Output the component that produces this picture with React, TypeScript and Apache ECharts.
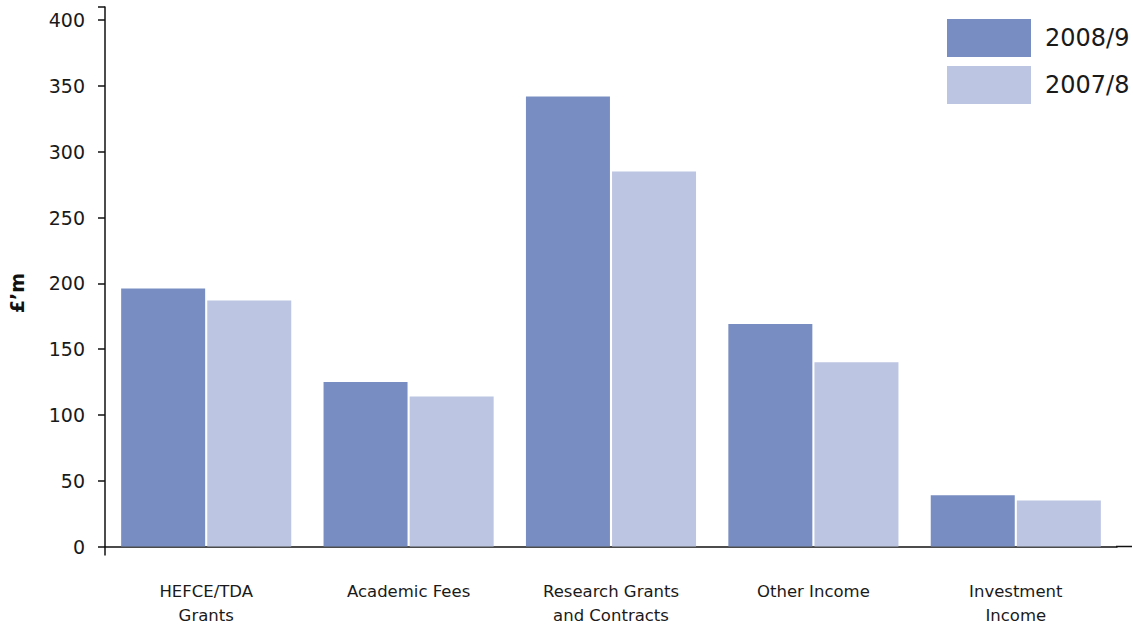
import React, { useEffect, useRef } from "react";
import * as echarts from "echarts";

const categories = [
  "HEFCE/TDA\nGrants",
  "Academic Fees",
  "Research Grants\nand Contracts",
  "Other Income",
  "Investment\nIncome",
];
const series2008_9 = [196, 125, 342, 169, 39];
const series2007_8 = [187, 114, 285, 140, 35];
const seriesNames = ["2008/9", "2007/8"];
const yMin = 0;
const yMax = 410;
const yInterval = 50;

const FONT = "DejaVu Sans";
const GRID_LEFT = 105;
const GRID_RIGHT = 16;
const GRID_TOP = 7;
const GRID_BOTTOM = 81.5;
const W = 1133;
const H = 628;

export default function App() {
  const ref = useRef<HTMLDivElement>(null);
  useEffect(() => {
    if (!ref.current) return;
    const chart = echarts.init(ref.current, undefined, { renderer: "svg" });
    const axisY = H - GRID_BOTTOM;
    const gridRightX = W - GRID_RIGHT;
    chart.setOption({
      animation: false,
      backgroundColor: "#ffffff",
      grid: { left: GRID_LEFT, right: GRID_RIGHT, top: GRID_TOP, bottom: GRID_BOTTOM, containLabel: false },
      legend: {
        orient: "vertical",
        left: 947,
        top: 19,
        padding: 0,
        itemWidth: 84,
        itemHeight: 38,
        itemGap: 9,
        icon: "rect",
        data: seriesNames,
        textStyle: { fontFamily: FONT, fontSize: 24, color: "#1a1a1a", padding: [0, 0, 0, 9] },
      },
      xAxis: {
        type: "category",
        data: categories,
        axisLine: { show: true, lineStyle: { color: "#111", width: 1.5 } },
        axisTick: { show: false },
        axisLabel: {
          interval: 0,
          margin: 33,
          fontFamily: FONT,
          fontSize: 16.5,
          lineHeight: 24,
          color: "#1a1a1a",
        },
        splitLine: { show: false },
      },
      yAxis: {
        type: "value",
        min: yMin,
        max: yMax,
        interval: yInterval,
        axisLine: { show: true, lineStyle: { color: "#111", width: 1.5 } },
        axisTick: { show: true, length: 7, lineStyle: { color: "#111", width: 1.5 } },
        axisLabel: {
          margin: 20,
          fontFamily: FONT,
          fontSize: 19,
          color: "#1a1a1a",
          formatter: (v: number) => (v % yInterval === 0 ? String(v) : ""),
        },
        splitLine: { show: false },
      },
      series: [
        {
          name: seriesNames[0],
          type: "bar",
          data: series2008_9,
          barWidth: 84,
          barGap: "2.5%",
          itemStyle: { color: "#788dc1" },
        },
        {
          name: seriesNames[1],
          type: "bar",
          data: series2007_8,
          barWidth: 84,
          itemStyle: { color: "#bcc5e2" },
        },
      ],
      graphic: [
        {
          type: "line",
          shape: { x1: gridRightX - 1, y1: axisY, x2: W - 1, y2: axisY },
          style: { stroke: "#111", lineWidth: 1.5 },
          silent: true,
        },
        {
          type: "line",
          shape: { x1: GRID_LEFT, y1: axisY, x2: GRID_LEFT, y2: axisY + 9 },
          style: { stroke: "#111", lineWidth: 1.5 },
          silent: true,
        },
        {
          type: "text",
          x: 17,
          y: 293,
          rotation: Math.PI / 2,
          style: {
            text: "£’m",
            fontFamily: FONT,
            fontSize: 19,
            fontWeight: "bold",
            fill: "#111",
            align: "center",
            verticalAlign: "middle",
          },
          silent: true,
        },
      ],
    });
    return () => chart.dispose();
  }, []);
  return (
    <div
      ref={ref}
      style={{ position: "fixed", left: 0, top: 0, width: W, height: H }}
    />
  );
}
